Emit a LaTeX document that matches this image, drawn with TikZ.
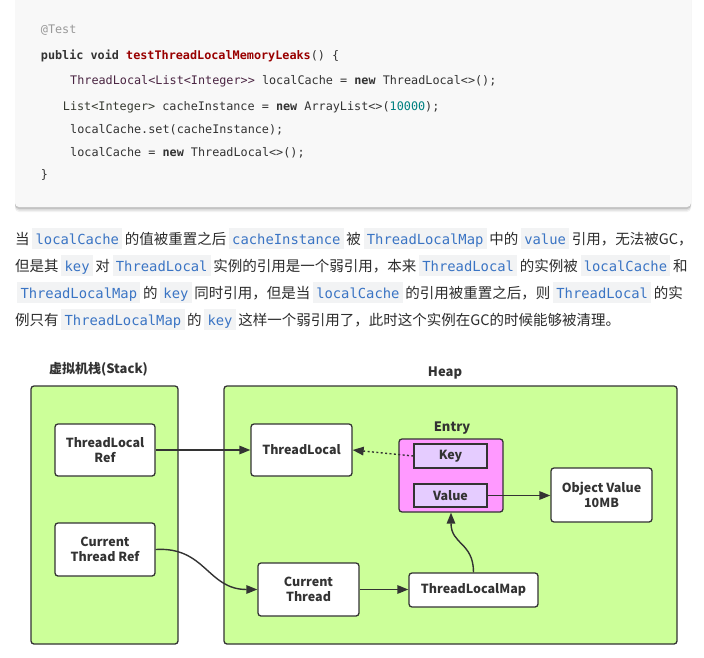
\documentclass[tikz,border=0pt]{standalone}
\usepackage{fontspec}
\usetikzlibrary{arrows.meta}
\newfontfamily\cjkfont{Noto Sans CJK SC}
\newfontfamily\cdfont{DejaVu Sans Mono}
\definecolor{blockbg}{HTML}{F8F8F8}
\definecolor{codebg}{HTML}{F2F3F4}
\definecolor{codeblue}{RGB}{58,116,196}
\definecolor{txt}{HTML}{2C2C2C}
\definecolor{cgray}{HTML}{999999}
\definecolor{cdark}{HTML}{333333}
\definecolor{cred}{HTML}{990000}
\definecolor{cpurple}{HTML}{4A2442}
\definecolor{colive}{HTML}{363A30}
\definecolor{cteal}{HTML}{008080}
\definecolor{green}{HTML}{CCFF99}
\definecolor{magenta}{HTML}{FF99FF}
\definecolor{lav}{HTML}{E5CCFF}
\definecolor{edge}{HTML}{333333}
\newcommand\ic[1]{{\setlength{\fboxsep}{0pt}\colorbox{codebg}{\hspace{3.3pt}\rule[-4.5pt]{0pt}{21pt}{\fontsize{13.84}{16}\cdfont\color{codeblue}#1}\hspace{3.3pt}}}}
\newcommand\gp{\hspace{2.6pt}}
\tikzset{
  codeline/.style={anchor=base west,inner sep=0pt,font=\fontsize{11.8}{14}\cdfont,text=cdark},
  paraline/.style={anchor=base west,inner sep=0pt,font=\fontsize{14.5}{17}\cjkfont,text=txt},
  cont/.style={draw=edge,fill=green,line width=1.3pt,rounded corners=3pt,inner sep=0pt},
  wbox/.style={draw=edge,fill=white,line width=1.3pt,rounded corners=3pt,inner sep=0pt,align=center,
    font=\fontsize{12.5}{15}\cjkfont\bfseries,text=cdark},
  entrybox/.style={draw=edge,fill=magenta,line width=1.3pt,rounded corners=3pt,inner sep=0pt},
  kvbox/.style={draw=edge,fill=lav,line width=1.3pt,inner sep=0pt,font=\fontsize{12.5}{15}\cjkfont\bfseries,text=cdark},
  lbl/.style={inner sep=0pt,font=\fontsize{13}{15}\cjkfont\bfseries,text=cdark},
  arr/.style={draw=edge,line width=1.4pt,-{Triangle[length=11pt,width=8.5pt]}},
}
\begin{document}
\begin{tikzpicture}[x=1pt,y=-1pt]
\useasboundingbox (0,0) rectangle (704,658);
\fill[white] (0,0) rectangle (704,658);
% code block with shadow
\fill[black,opacity=0.05,rounded corners=4pt] (15,-10) rectangle (691,212);
\fill[black,opacity=0.08,rounded corners=4pt] (15,-10) rectangle (691,210.5);
\fill[black,opacity=0.12,rounded corners=4pt] (15,-10) rectangle (691,209);
\fill[blockbg,rounded corners=4pt] (15,-10) rectangle (691,207);
\node[codeline] (c1) at (40.7,33.3) {\color{cgray}@Test};
\node[codeline] (c2) at (40.7,59.3) {{\bfseries public void} {\color{cred}\bfseries testThreadLocalMemoryLeaks}() \{};
\node[codeline] (c3) at (70,85) {{\color{cpurple}ThreadLocal<List<Integer>>} localCache = {\bfseries new} ThreadLocal<>();};
\node[codeline] (c4) at (62.7,110.7) {{\color{colive}List<Integer>} cacheInstance = {\bfseries new} ArrayList<>({\color{cteal}10000});};
\node[codeline] (c5) at (70,133.3) {localCache.set(cacheInstance);};
\node[codeline] (c6) at (70,156.3) {localCache = {\bfseries new} ThreadLocal<>();};
\node[codeline] (c7) at (40.7,178.8) {\}};
% paragraph
\node[paraline] (p1) at (15,244.5) {当\gp\ic{localCache}\gp 的值被重置之后\gp\ic{cacheInstance}\gp 被\gp\ic{ThreadLocalMap}\gp 中的\gp\ic{value}\gp 引用，无法被GC，};
\node[paraline] (p2) at (15,271.5) {但是其\gp\ic{key}\gp 对\gp\ic{ThreadLocal}\gp 实例的引用是一个弱引用，本来\gp\ic{ThreadLocal}\gp 的实例被\gp\ic{localCache}\gp 和};
\node[paraline] (p3) at (17,298.5) {\ic{ThreadLocalMap}\gp 的\gp\ic{key}\gp 同时引用，但是当\gp\ic{localCache}\gp 的引用被重置之后，则\gp\ic{ThreadLocal}\gp 的实};
\node[paraline] (p4) at (15,325.5) {例只有\gp\ic{ThreadLocalMap}\gp 的\gp\ic{key}\gp 这样一个弱引用了，此时这个实例在GC的时候能够被清理。};
% diagram
\node[lbl] (stacklbl) at (98.5,369) {虚拟机栈(Stack)};
\node[lbl] (heaplbl) at (445,373) {Heap};
\node[cont,minimum width=147pt,minimum height=258pt] (stack) at (104.5,515) {};
\node[cont,minimum width=453pt,minimum height=258pt] (heap) at (450.5,515) {};
\node[wbox,minimum width=100pt,minimum height=52pt] (tlref) at (105,450) {ThreadLocal\\Ref};
\node[wbox,minimum width=100pt,minimum height=53pt] (ctref) at (105,549.5) {Current\\Thread Ref};
\node[wbox,minimum width=101pt,minimum height=52pt] (tl) at (301.5,450) {ThreadLocal};
\node[wbox,minimum width=101pt,minimum height=53pt] (ct) at (308.5,589.5) {Current\\Thread};
\node[lbl] (entrylbl) at (452,428) {Entry};
\node[entrybox,minimum width=104pt,minimum height=73pt] (entry) at (451,475.5) {};
\node[kvbox,minimum width=73pt,minimum height=24pt] (key) at (450.5,456) {Key};
\node[kvbox,minimum width=73pt,minimum height=23pt] (value) at (450.5,495.5) {Value};
\node[wbox,minimum width=101pt,minimum height=54pt] (obj) at (601.5,495) {Object Value\\10MB};
\node[wbox,minimum width=129pt,minimum height=34pt] (tlm) at (473.5,590) {ThreadLocalMap};
% connectors
\draw[arr] (tlref.east) -- (tl.west);
\draw[arr,dash pattern=on 2pt off 2.4pt] (key.west) -- (tl.east);
\draw[arr] (value.east) -- (value.east -| obj.west);
\draw[arr] (ctref.east) .. controls +(50,-3) and +(-50,0) .. (ct.west);
\draw[arr] (ct.east) -- (ct.east -| tlm.west);
\draw[arr] (tlm.north) .. controls +(0,-30) and +(0,32) .. (entry.south);
\end{tikzpicture}
\end{document}
